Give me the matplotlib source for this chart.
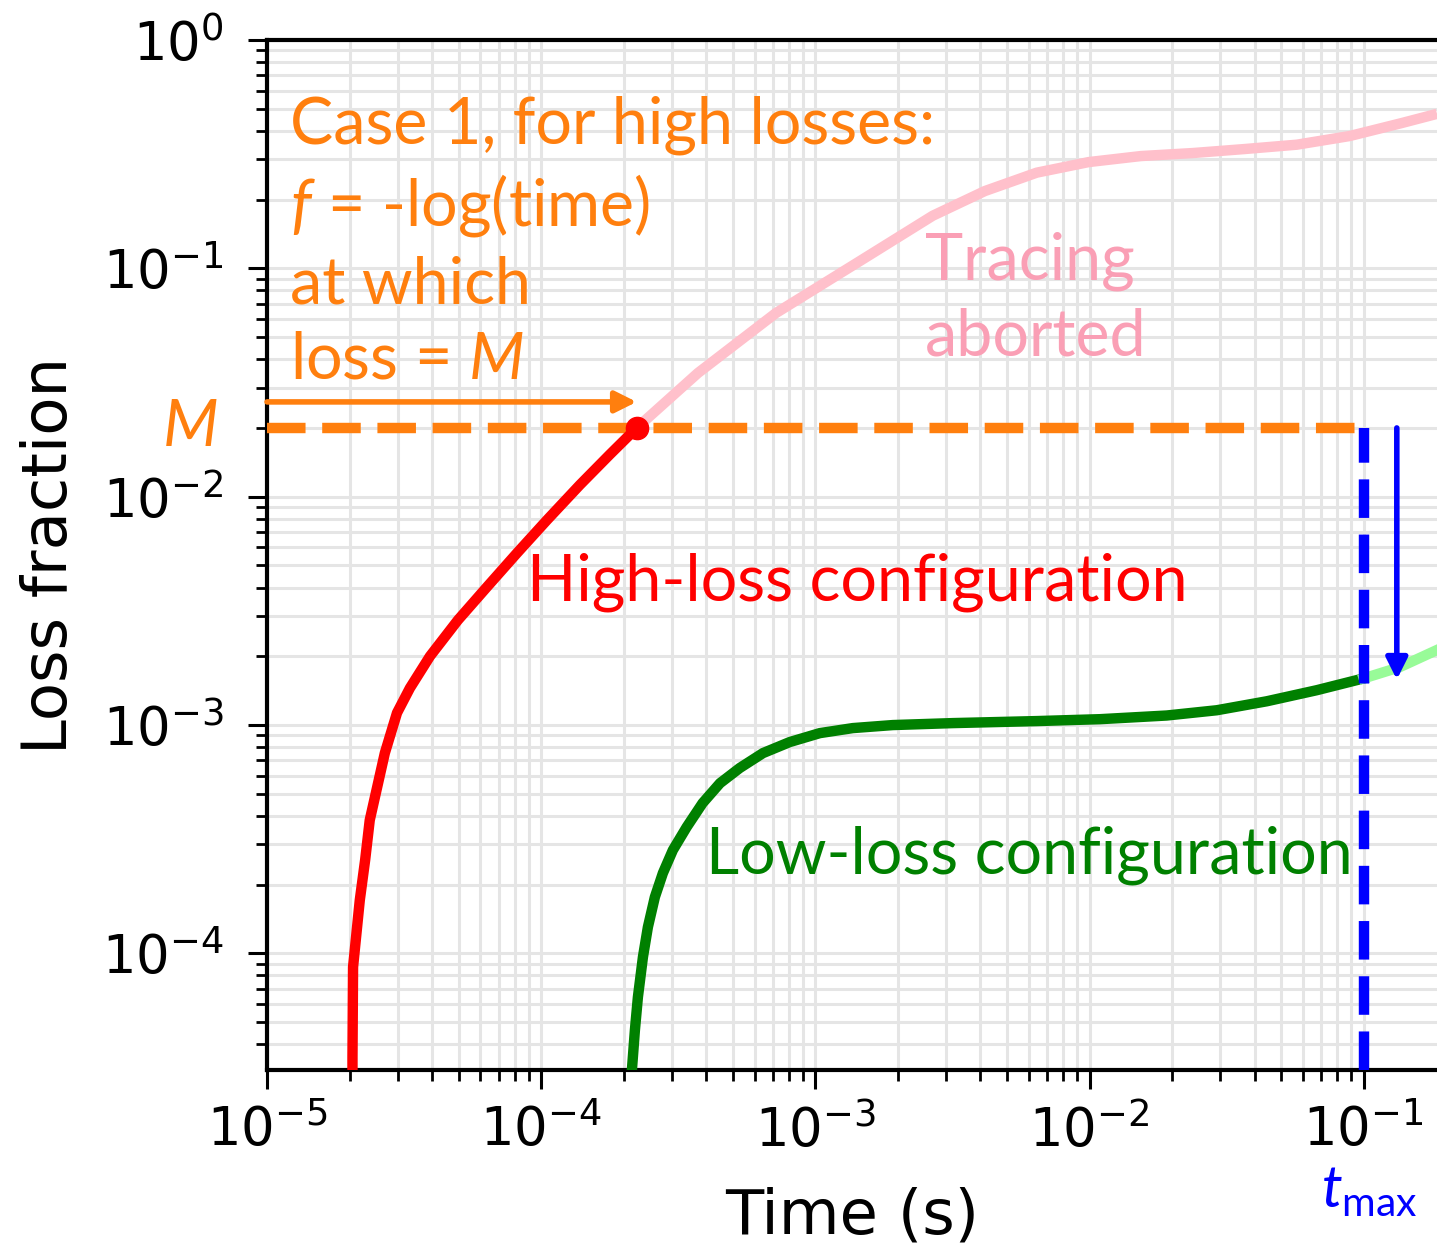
import matplotlib.pyplot as plt
from matplotlib.transforms import blended_transform_factory

# --- values ---
M = 0.02          # loss threshold
t_M = 2.23e-4     # time at which the high-loss run reaches M
t_max = 0.1       # tracing time limit
t_arrow = 0.132   # x of the blue "drop" arrow
loss_arrow_end = 1.58e-3
loss_orange_arrow = 0.026

# high-loss configuration (red), traced until loss = M
t_high = [2.05e-5, 2.05e-5, 2.06e-5, 2.18e-5, 2.28e-5, 2.37e-5, 2.69e-5,
          2.98e-5, 3.32e-5, 3.93e-5, 4.97e-5, 6.34e-5, 8.16e-5, 1.05e-4,
          1.385e-4, 1.78e-4, 2.23e-4]
loss_high = [1e-5, 3.5e-5, 8.7e-5, 1.71e-4, 2.56e-4, 3.83e-4, 7.53e-4,
             1.13e-3, 1.45e-3, 2.0e-3, 2.88e-3, 4.02e-3, 5.66e-3, 7.9e-3,
             1.127e-2, 1.53e-2, 2.0e-2]

# continuation after abort (pink)
t_pink = [2.23e-4, 3.73e-4, 7.18e-4, 1.388e-3, 2.68e-3, 4.15e-3, 6.42e-3,
          9.94e-3, 1.538e-2, 2.38e-2, 3.68e-2, 5.70e-2, 8.89e-2, 0.1376, 0.185]
loss_pink = [0.02, 0.0348, 0.0637, 0.104, 0.170, 0.218, 0.2625,
             0.2921, 0.3103, 0.3199, 0.3331, 0.3480, 0.3798, 0.4329, 0.475]

# low-loss configuration (green), traced until t_max
t_low = [2.13e-4, 2.142e-4, 2.197e-4, 2.253e-4, 2.35e-4, 2.45e-4, 2.598e-4,
         2.779e-4, 3.022e-4, 3.393e-4, 3.88e-4, 4.49e-4, 5.30e-4, 6.44e-4,
         8.07e-4, 1.038e-3, 1.37e-3, 1.917e-3, 3.17e-3, 6.42e-3, 1.09e-2,
         1.91e-2, 2.91e-2, 4.43e-2, 6.74e-2, 0.1]
loss_low = [1e-5, 3.08e-5, 4.61e-5, 6.43e-5, 9.62e-5, 1.302e-4, 1.763e-4,
            2.245e-4, 2.831e-4, 3.57e-4, 4.55e-4, 5.56e-4, 6.48e-4, 7.53e-4,
            8.42e-4, 9.21e-4, 9.69e-4, 9.99e-4, 1.019e-3, 1.04e-3, 1.06e-3,
            1.10e-3, 1.16e-3, 1.27e-3, 1.42e-3, 1.60e-3]

# beyond t_max (light green)
t_low_after = [0.1, 0.135, 0.185]
loss_low_after = [1.60e-3, 1.79e-3, 2.13e-3]

x_range = (1e-5, 0.185)
y_range = (3.08e-5, 1.0)

# --- fonts ---
plt.rcParams['mathtext.rm'] = 'Lato'
plt.rcParams['mathtext.it'] = 'Lato:italic'
plt.rcParams['mathtext.bf'] = 'Lato:bold'
ann_font = dict(family='Lato', fontsize=46.5, math_fontfamily='custom')

fig = plt.figure(figsize=(14.37, 12.47), dpi=100)
ax = fig.add_axes([0.1858, 0.1419, 0.8142, 0.8260])

ax.plot(t_pink, loss_pink, color='pink', lw=7.5, solid_capstyle='butt', zorder=3)
ax.plot(t_high, loss_high, color='red', lw=7.5, zorder=4)
ax.plot(t_low, loss_low, color='green', lw=7.5, zorder=3)
ax.plot(t_low_after, loss_low_after, color='palegreen', lw=7.5, zorder=3)

# threshold and time limit
ax.plot([x_range[0], t_max], [M, M], '--', color='#ff7f0e', lw=7.5, zorder=3)
ax.plot([t_max, t_max], [y_range[0], M], '--', color='blue', lw=7.5, zorder=4)
ax.plot([t_M], [M], 'o', color='red', markersize=16, zorder=5)

ax.annotate('', xy=(t_M, loss_orange_arrow), xytext=(x_range[0], loss_orange_arrow),
            arrowprops=dict(arrowstyle='-|>', color='#ff7f0e', lw=4,
                            mutation_scale=32, shrinkA=0, shrinkB=0), zorder=5)
ax.annotate('', xy=(t_arrow, loss_arrow_end), xytext=(t_arrow, M),
            arrowprops=dict(arrowstyle='-|>', color='blue', lw=4,
                            mutation_scale=32, shrinkA=0, shrinkB=0), zorder=5)

ax.set_xscale('log')
ax.set_yscale('log')
ax.set_xlim(*x_range)
ax.set_ylim(*y_range)

ax.grid(True, which='both', color='#e5e5e5', lw=2.2)
ax.set_axisbelow(True)
ax.spines['right'].set_visible(False)
for s in ('left', 'bottom', 'top'):
    ax.spines[s].set_linewidth(3)
ax.tick_params(which='major', length=14, width=2.2, labelsize=38)
ax.tick_params(which='minor', length=8, width=2)
ax.tick_params(axis='x', which='major', pad=11)
ax.tick_params(axis='y', which='major', pad=17)

ax.set_xlabel('Time (s)', fontsize=45)
ax.set_ylabel('Loss fraction', fontsize=45)
ax.xaxis.set_label_coords(0.5, -0.113)
ax.yaxis.set_label_coords(-0.16, 0.5)

# annotations (y = baseline of the last line)
ax.text(0.0197, 0.6718, 'Case 1, for high losses:\n$f$ = -log(time)\nat which\nloss = $M$',
        transform=ax.transAxes, color='#ff7f0e', va='baseline', ha='left',
        linespacing=1.33, **ann_font)
ax.text(0.5624, 0.6942, 'Tracing\naborted', transform=ax.transAxes,
        color='#fa9fb5', va='baseline', ha='left', linespacing=1.33, **ann_font)
ax.text(0.2222, 0.4563, 'High-loss configuration', transform=ax.transAxes,
        color='red', va='baseline', ha='left', **ann_font)
ax.text(0.3752, 0.1913, 'Low-loss configuration', transform=ax.transAxes,
        color='green', va='baseline', ha='left', **ann_font)

trans_y = blended_transform_factory(ax.transAxes, ax.transData)
ax.text(-0.066, M, '$M$', transform=trans_y, color='#ff7f0e',
        ha='center', va='center', clip_on=False, **ann_font)
trans_x = blended_transform_factory(ax.transData, ax.transAxes)
ax.text(t_max * 1.05, -0.118, r'$t_{\mathrm{max}}$', transform=trans_x, color='blue',
        ha='center', va='center', clip_on=False, family='Lato', fontsize=42,
        math_fontfamily='custom')

fig.savefig('out.png', dpi=100)
